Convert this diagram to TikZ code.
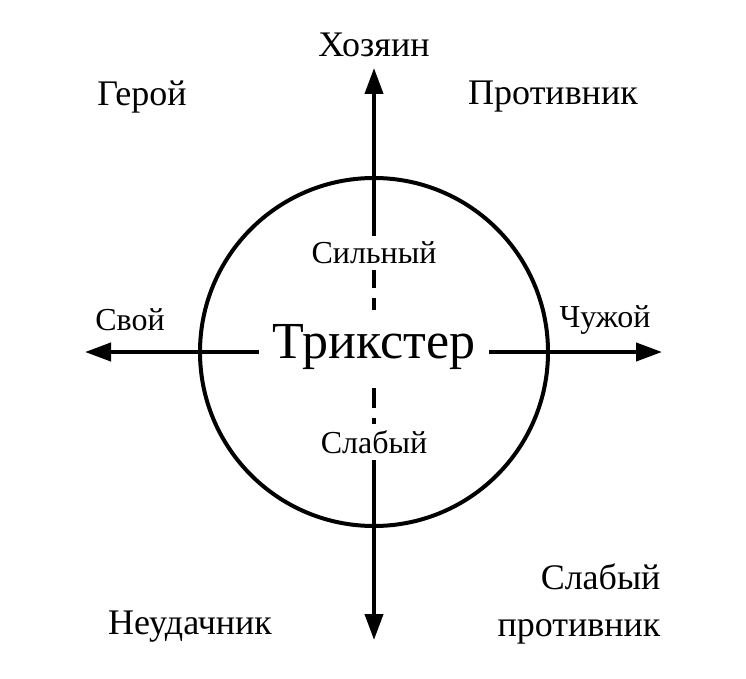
\documentclass[tikz,border=0pt]{standalone}
\usepackage{fontspec}
\setmainfont{Liberation Serif}
\usetikzlibrary{arrows.meta}
\begin{document}
\begin{tikzpicture}[x=1pt,y=-1pt]
\tikzset{% styles for the picture
    axis/.style={line width=4pt,-{Triangle[length=26pt,width=18pt]}},
    lab/.style={font=\fontsize{36}{38}\selectfont},
    inner/.style={font=\fontsize{32}{34}\selectfont,fill=white,inner sep=6pt}}
\useasboundingbox (0,0) rectangle (746,679);
\coordinate (c) at (374,352);
\coordinate (up) at (374,68);
\coordinate (down) at (374,640);
\coordinate (left) at (85,352);
\coordinate (right) at (662,352);
\coordinate (dtop) at (374,268);
\coordinate (dbot) at (374,440);
\draw[line width=4pt] (c) circle (174);
\draw[axis] (dtop) -- (up);
\draw[axis] (dbot) -- (down);
\draw[axis] (c) -- (left);
\draw[axis] (c) -- (right);
\draw[line width=4pt,dash pattern=on 20pt off 10pt] (dtop) -- (dbot);
\node[inner,font=\fontsize{52}{54}\selectfont,inner sep=14pt] (tr) at (374,347) {Трикстер};
\node[inner] (str) at (374,253) {Сильный};
\node[inner] (wk) at (374,442) {Слабый};
\node[lab] (host) at (374,45) {Хозяин};
\node[lab] (hero) at (142,97) {Герой};
\node[lab] (enemy) at (553,97) {Противник};
\node[lab,font=\fontsize{32}{34}\selectfont] (own) at (130,320) {Свой};
\node[lab,font=\fontsize{32}{34}\selectfont] (alien) at (605,320) {Чужой};
\node[lab] (loser) at (190,627) {Неудачник};
\node[lab,align=right,anchor=east,font=\fontsize{36}{47}\selectfont] (weak) at (664,604) {Слабый\\противник};
\end{tikzpicture}
\end{document}
